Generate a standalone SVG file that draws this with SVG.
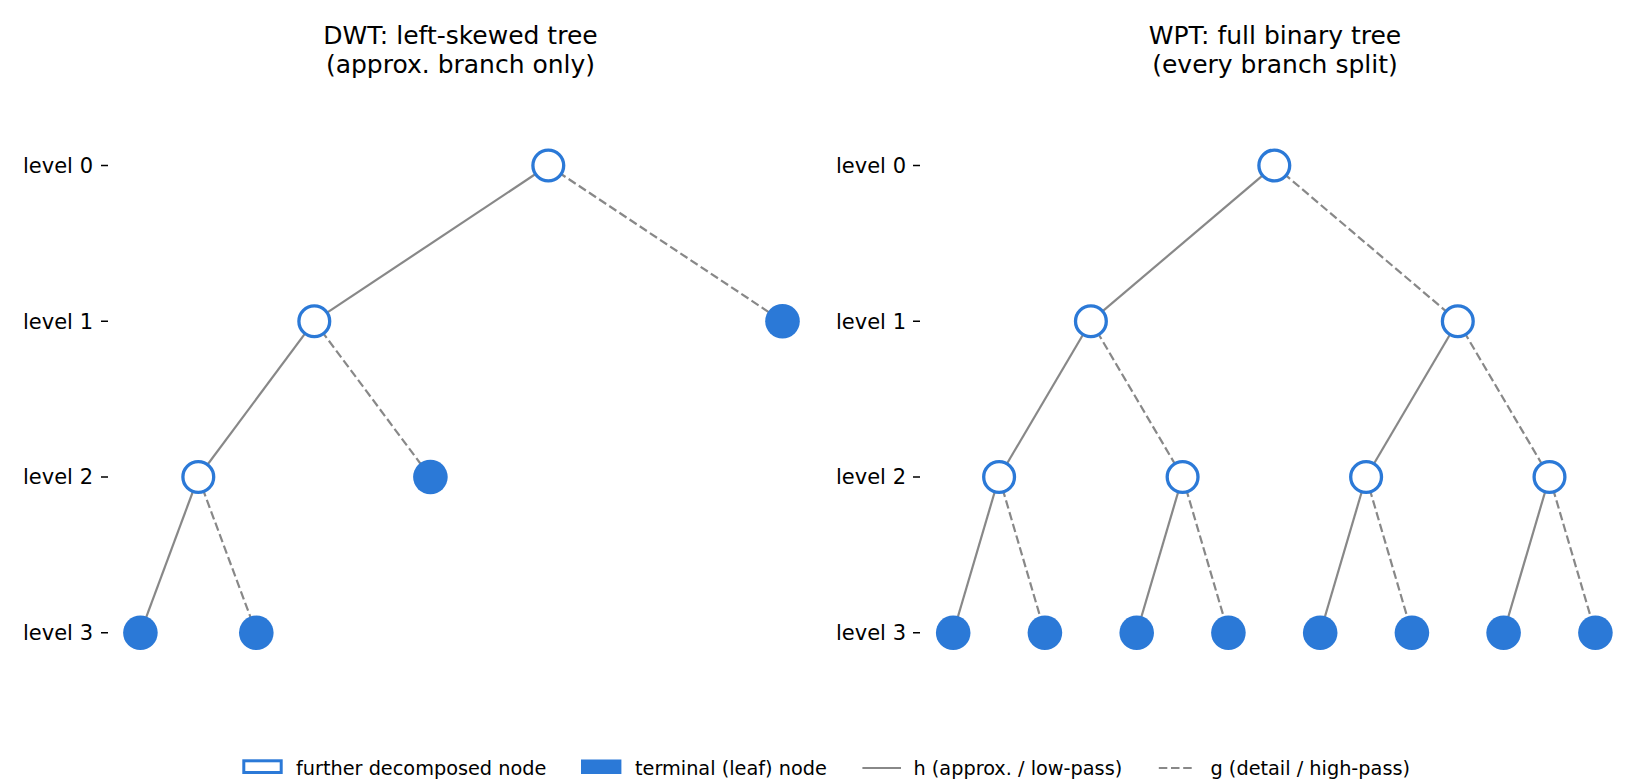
<svg xmlns="http://www.w3.org/2000/svg" width="1650" height="780" viewBox="0 0 1650 780">
<style>
text{font-family:"DejaVu Sans","Liberation Sans",sans-serif;fill:#000}
.title{font-size:25px;text-anchor:middle}
.tick{font-size:21px;text-anchor:end}
.leg{font-size:19.3px}
.h{stroke:#888888;stroke-width:2.2;fill:none}
.g{stroke:#888888;stroke-width:2.2;fill:none;stroke-dasharray:8.5 3.7}
.open{fill:#ffffff;stroke:#2b79d7;stroke-width:3.3}
.leaf{fill:#2b79d7;stroke:none}
.tk{stroke:#000;stroke-width:1.6}
</style>
<rect width="1650" height="780" fill="#ffffff"/>

<text class="title" x="460.5" y="43.5">DWT: left-skewed tree</text>
<text class="title" x="460.5" y="73">(approx. branch only)</text>
<text class="title" x="1275" y="43.5">WPT: full binary tree</text>
<text class="title" x="1275" y="73">(every branch split)</text>

<g id="axis-left">
<text class="tick" x="93" y="172.8">level 0</text>
<text class="tick" x="93" y="328.5">level 1</text>
<text class="tick" x="93" y="484.3">level 2</text>
<text class="tick" x="93" y="640.1">level 3</text>
<path class="tk" d="M101 165.5H108M101 321.2H108M101 477H108M101 632.8H108"/>
</g>
<g id="axis-right">
<text class="tick" x="906" y="172.8">level 0</text>
<text class="tick" x="906" y="328.5">level 1</text>
<text class="tick" x="906" y="484.3">level 2</text>
<text class="tick" x="906" y="640.1">level 3</text>
<path class="tk" d="M913 165.5H920M913 321.2H920M913 477H920M913 632.8H920"/>
</g>

<g id="connectors">
<line class="h" x1="548.3" y1="165.5" x2="314.3" y2="321.2"/>
<line class="g" x1="548.3" y1="165.5" x2="782.5" y2="321.2"/>
<line class="h" x1="314.3" y1="321.2" x2="198.3" y2="477"/>
<line class="g" x1="314.3" y1="321.2" x2="430.4" y2="477"/>
<line class="h" x1="198.3" y1="477" x2="140.4" y2="632.8"/>
<line class="g" x1="198.3" y1="477" x2="256.3" y2="632.8"/>

<line class="h" x1="1274.3" y1="165.5" x2="1090.9" y2="321.2"/>
<line class="g" x1="1274.3" y1="165.5" x2="1457.8" y2="321.2"/>
<line class="h" x1="1090.9" y1="321.2" x2="999.1" y2="477"/>
<line class="g" x1="1090.9" y1="321.2" x2="1182.6" y2="477"/>
<line class="h" x1="1457.8" y1="321.2" x2="1366.1" y2="477"/>
<line class="g" x1="1457.8" y1="321.2" x2="1549.5" y2="477"/>
<line class="h" x1="999.1" y1="477" x2="953.2" y2="632.8"/>
<line class="g" x1="999.1" y1="477" x2="1044.9" y2="632.8"/>
<line class="h" x1="1182.6" y1="477" x2="1136.7" y2="632.8"/>
<line class="g" x1="1182.6" y1="477" x2="1228.4" y2="632.8"/>
<line class="h" x1="1366.1" y1="477" x2="1320.2" y2="632.8"/>
<line class="g" x1="1366.1" y1="477" x2="1411.9" y2="632.8"/>
<line class="h" x1="1549.5" y1="477" x2="1503.6" y2="632.8"/>
<line class="g" x1="1549.5" y1="477" x2="1595.4" y2="632.8"/>
</g>

<g id="dwt-root"><circle class="open" cx="548.3" cy="165.5" r="15.4"/></g>
<g id="dwt-a1"><circle class="open" cx="314.3" cy="321.2" r="15.4"/></g>
<g id="dwt-d1"><circle class="leaf" cx="782.5" cy="321.2" r="17.3"/></g>
<g id="dwt-a2"><circle class="open" cx="198.3" cy="477" r="15.4"/></g>
<g id="dwt-d2"><circle class="leaf" cx="430.4" cy="477" r="17.3"/></g>
<g id="dwt-a3"><circle class="leaf" cx="140.4" cy="632.8" r="17.3"/></g>
<g id="dwt-d3"><circle class="leaf" cx="256.3" cy="632.8" r="17.3"/></g>

<g id="wpt-root"><circle class="open" cx="1274.3" cy="165.5" r="15.4"/></g>
<g id="wpt-1-0"><circle class="open" cx="1090.9" cy="321.2" r="15.4"/></g>
<g id="wpt-1-1"><circle class="open" cx="1457.8" cy="321.2" r="15.4"/></g>
<g id="wpt-2-0"><circle class="open" cx="999.1" cy="477" r="15.4"/></g>
<g id="wpt-2-1"><circle class="open" cx="1182.6" cy="477" r="15.4"/></g>
<g id="wpt-2-2"><circle class="open" cx="1366.1" cy="477" r="15.4"/></g>
<g id="wpt-2-3"><circle class="open" cx="1549.5" cy="477" r="15.4"/></g>
<g id="wpt-3-0"><circle class="leaf" cx="953.2" cy="632.8" r="17.3"/></g>
<g id="wpt-3-1"><circle class="leaf" cx="1044.9" cy="632.8" r="17.3"/></g>
<g id="wpt-3-2"><circle class="leaf" cx="1136.7" cy="632.8" r="17.3"/></g>
<g id="wpt-3-3"><circle class="leaf" cx="1228.4" cy="632.8" r="17.3"/></g>
<g id="wpt-3-4"><circle class="leaf" cx="1320.2" cy="632.8" r="17.3"/></g>
<g id="wpt-3-5"><circle class="leaf" cx="1411.9" cy="632.8" r="17.3"/></g>
<g id="wpt-3-6"><circle class="leaf" cx="1503.6" cy="632.8" r="17.3"/></g>
<g id="wpt-3-7"><circle class="leaf" cx="1595.4" cy="632.8" r="17.3"/></g>

<g id="legend">
<rect x="243.8" y="760.8" width="37.4" height="11.7" fill="#ffffff" stroke="#2b79d7" stroke-width="3"/>
<text class="leg" x="296" y="775">further decomposed node</text>
<rect x="581" y="759.5" width="40.4" height="14.5" fill="#2b79d7"/>
<text class="leg" x="635" y="775">terminal (leaf) node</text>
<line class="h" x1="862.4" y1="768" x2="901" y2="768"/>
<text class="leg" x="913.5" y="775">h (approx. / low-pass)</text>
<line class="g" x1="1158.8" y1="768" x2="1194.8" y2="768"/>
<text class="leg" x="1210.5" y="775">g (detail / high-pass)</text>
</g>
</svg>
